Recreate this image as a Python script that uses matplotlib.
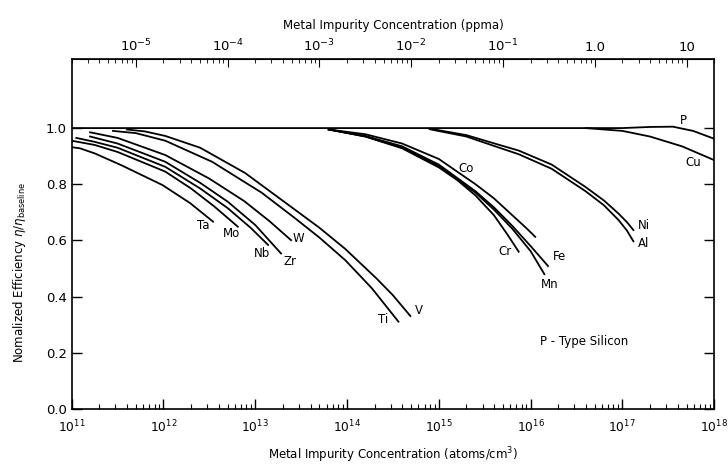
import numpy as np
import matplotlib
matplotlib.use("Agg")
import matplotlib.pyplot as plt

###################
# data (log10 of atoms/cm3, normalized efficiency)
###################

ta_x = [11.0, 11.09, 11.25, 11.54, 11.99, 12.29, 12.54]
ta_y = [0.932, 0.928, 0.91, 0.868, 0.797, 0.733, 0.667]

mo_x = [11.0, 11.25, 11.5, 12.02, 12.3, 12.55, 12.81]
mo_y = [0.955, 0.94, 0.915, 0.845, 0.785, 0.722, 0.649]

nb_x = [11.05, 11.25, 11.5, 12.02, 12.4, 12.7, 12.95, 13.14]
nb_y = [0.965, 0.951, 0.93, 0.862, 0.785, 0.715, 0.645, 0.584]

zr_x = [11.2, 11.5, 12.02, 12.4, 12.7, 13.0, 13.28]
zr_y = [0.97, 0.945, 0.88, 0.805, 0.738, 0.655, 0.554]

w_x = [11.2, 11.5, 12.02, 12.5, 12.88, 13.15, 13.39]
w_y = [0.985, 0.965, 0.904, 0.82, 0.74, 0.67, 0.601]

ti_x = [11.45, 11.7, 12.02, 12.53, 13.07, 13.43, 13.7, 13.98, 14.27, 14.56]
ti_y = [0.99, 0.982, 0.955, 0.88, 0.77, 0.68, 0.61, 0.53, 0.43, 0.311]

v_x = [11.6, 11.8, 12.02, 12.4, 12.89, 13.43, 13.7, 13.98, 14.32, 14.5, 14.69]
v_y = [0.995, 0.988, 0.972, 0.93, 0.84, 0.71, 0.645, 0.57, 0.465, 0.405, 0.331]

co_x = [13.8, 14.2, 14.6, 15.0, 15.4, 15.6, 15.8, 15.95, 16.05]
co_y = [0.995, 0.978, 0.945, 0.89, 0.80, 0.75, 0.69, 0.645, 0.613]

cr_x = [13.8, 14.2, 14.6, 15.0, 15.2, 15.4, 15.6, 15.75, 15.87]
cr_y = [0.995, 0.97, 0.928, 0.86, 0.815, 0.76, 0.69, 0.62, 0.56]

fe_x = [13.8, 14.2, 14.6, 15.0, 15.4, 15.6, 15.8, 16.0, 16.19]
fe_y = [0.995, 0.972, 0.935, 0.87, 0.775, 0.718, 0.652, 0.58, 0.509]

mn_x = [13.8, 14.2, 14.6, 15.0, 15.4, 15.6, 15.8, 16.0, 16.15]
mn_y = [0.995, 0.97, 0.93, 0.865, 0.77, 0.71, 0.642, 0.562, 0.48]

ni_x = [14.9, 15.3, 15.66, 15.87, 16.23, 16.6, 16.8, 16.96, 17.05, 17.12]
ni_y = [0.998, 0.975, 0.94, 0.92, 0.87, 0.79, 0.742, 0.695, 0.665, 0.637]

al_x = [14.9, 15.3, 15.66, 15.87, 16.23, 16.6, 16.8, 16.96, 17.05, 17.12]
al_y = [0.996, 0.97, 0.93, 0.907, 0.855, 0.775, 0.725, 0.672, 0.635, 0.597]

p_x = [11.0, 13.0, 15.0, 17.0, 17.3, 17.55, 17.77, 18.0]
p_y = [1.0, 1.0, 1.0, 1.0, 1.004, 1.005, 0.99, 0.962]

cu_x = [16.6, 17.0, 17.3, 17.65, 18.0]
cu_y = [1.0, 0.99, 0.97, 0.935, 0.886]

curves = [(ta_x, ta_y), (mo_x, mo_y), (nb_x, nb_y), (zr_x, zr_y), (w_x, w_y),
          (ti_x, ti_y), (v_x, v_y), (co_x, co_y), (cr_x, cr_y), (fe_x, fe_y),
          (mn_x, mn_y), (ni_x, ni_y), (al_x, al_y), (p_x, p_y), (cu_x, cu_y)]

# label text, log10 N, y
labels = [("Ta", 12.43, 0.655), ("Mo", 12.74, 0.625), ("Nb", 13.07, 0.554),
          ("Zr", 13.38, 0.524), ("W", 13.47, 0.607), ("Ti", 14.39, 0.319),
          ("V", 14.78, 0.35), ("Co", 15.30, 0.857), ("Cr", 15.72, 0.56),
          ("Fe", 16.32, 0.542), ("Mn", 16.21, 0.445), ("Ni", 17.23, 0.655),
          ("Al", 17.23, 0.59), ("P", 17.66, 1.028), ("Cu", 17.77, 0.877)]

ppma_ticks = [1e-5, 1e-4, 1e-3, 1e-2, 1e-1, 1.0, 10.0]
ppma_labels = [r"$10^{-5}$", r"$10^{-4}$", r"$10^{-3}$", r"$10^{-2}$", r"$10^{-1}$", "1.0", "10"]

# silicon: 5e22 atoms/cm3 -> 1 ppma = 5e16 atoms/cm3
SI_DENS = 5e16

#########
# plot
#########

plt.rcParams['font.family'] = ['DejaVu Sans']
fig = plt.figure(figsize=(7.28, 4.68), dpi=100)
ax = fig.add_axes([0.0985, 0.126, 0.8825, 0.748])

for xs, ys in curves:
    ax.plot(10 ** np.array(xs), ys, color='black', lw=1.3)

for txt, lx, ly in labels:
    ax.text(10 ** lx, ly, txt, fontsize=8.5, ha='center', va='center')

ax.text(10 ** 16.1, 0.24, "P - Type Silicon", fontsize=8.5, ha='left', va='center')

ax.set_xscale('log')
ax.set_xlim(1e11, 1e18)
ax.set_ylim(0, 1.246)
ax.set_yticks([0.0, 0.2, 0.4, 0.6, 0.8, 1.0])
ax.set_yticklabels(["0.0", "0.2", "0.4", "0.6", "0.8", "1.0"])
ax.tick_params(axis='both', which='both', direction='in', right=True, labelsize=9.5)
ax.tick_params(axis='both', which='major', length=7, width=1)
ax.tick_params(axis='x', which='minor', length=3.5, width=0.8)
ax.tick_params(axis='x', which='both', pad=7, labelsize=8.8)
ax.set_xticks([10.0 ** k for k in range(11, 19)])

ax.set_xlabel(r"Metal Impurity Concentration (atoms/cm$^3$)", fontsize=8.5, labelpad=7)
ax.set_ylabel(r"Nomalized Efficiency $\eta/\eta_{\mathrm{baseline}}$", fontsize=8.5)
ax.yaxis.set_label_coords(-0.068, 0.39)

for s in ax.spines.values():
    s.set_linewidth(1.2)

sec = ax.secondary_xaxis('top', functions=(lambda n: n / SI_DENS, lambda p: p * SI_DENS))
sec.set_xticks(ppma_ticks)
sec.set_xticklabels(ppma_labels)
sec.tick_params(which='both', direction='in', labelsize=9.5)
sec.tick_params(which='major', length=6)
sec.tick_params(which='minor', length=3)
sec.set_xlabel("Metal Impurity Concentration (ppma)", fontsize=8.5, labelpad=6)

fig.savefig("out.png", dpi=100)
